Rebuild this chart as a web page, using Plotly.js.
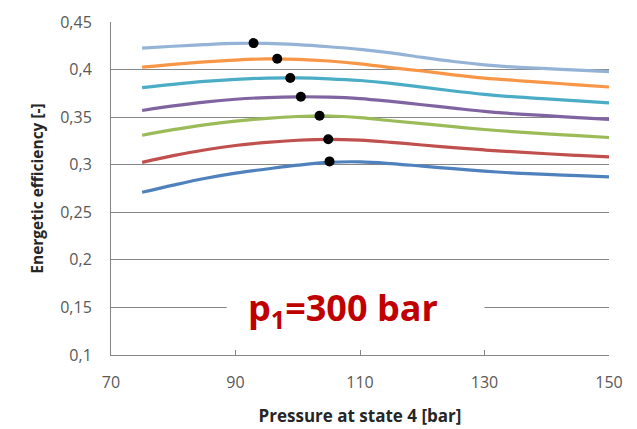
<!DOCTYPE html>
<html>
<head>
<meta charset="utf-8">
<script src="https://cdn.plot.ly/plotly-3.0.1.min.js"></script>
<style>html,body{margin:0;padding:0;background:#fff;}#chart{width:637px;height:429px;}</style>
</head>
<body>
<div id="chart"></div>
<script>
const pressure = [75, 80, 85, 90, 95, 100, 105, 110, 115, 120, 125, 130, 135, 140, 145, 150];
const effLightBlue = [0.4225, 0.4245, 0.4262, 0.4275, 0.4275, 0.4262, 0.4240, 0.4212, 0.4175, 0.4128, 0.4085, 0.4050, 0.4025, 0.4010, 0.3995, 0.3978];
const effOrange    = [0.4025, 0.4055, 0.4080, 0.4100, 0.4112, 0.4108, 0.4090, 0.4060, 0.4020, 0.3985, 0.3945, 0.3910, 0.3885, 0.3862, 0.3840, 0.3817];
const effTeal      = [0.3810, 0.3845, 0.3875, 0.3897, 0.3910, 0.3912, 0.3903, 0.3885, 0.3855, 0.3815, 0.3775, 0.3740, 0.3712, 0.3692, 0.3672, 0.3651];
const effPurple    = [0.3570, 0.3618, 0.3658, 0.3688, 0.3706, 0.3714, 0.3710, 0.3695, 0.3665, 0.3630, 0.3595, 0.3560, 0.3535, 0.3515, 0.3495, 0.3477];
const effGreen     = [0.3310, 0.3368, 0.3418, 0.3458, 0.3488, 0.3507, 0.3512, 0.3495, 0.3462, 0.3432, 0.3400, 0.3370, 0.3345, 0.3325, 0.3305, 0.3286];
const effRed       = [0.3025, 0.3095, 0.3155, 0.3202, 0.3235, 0.3257, 0.3267, 0.3258, 0.3235, 0.3207, 0.3180, 0.3155, 0.3135, 0.3115, 0.3098, 0.3083];
const effBlue      = [0.2710, 0.2785, 0.2855, 0.2912, 0.2955, 0.2995, 0.3025, 0.3030, 0.3012, 0.2985, 0.2958, 0.2932, 0.2912, 0.2898, 0.2885, 0.2872];

const peakPressure = [92.9, 96.7, 98.8, 100.5, 103.5, 104.9, 105.1];
const peakEff      = [0.4278, 0.4113, 0.3911, 0.3714, 0.3514, 0.3268, 0.3035];

const yTickVals = [0.1, 0.15, 0.2, 0.25, 0.3, 0.35, 0.4, 0.45];
const yTickText = ['0,1', '0,15', '0,2', '0,25', '0,3', '0,35', '0,4', '0,45'];
const xTickVals = [70, 90, 110, 130, 150];

const series = [
  {y: effLightBlue, color: '#95B3D7'},
  {y: effOrange, color: '#F79646'},
  {y: effTeal, color: '#4BACC6'},
  {y: effPurple, color: '#8064A2'},
  {y: effGreen, color: '#9BBB59'},
  {y: effRed, color: '#C0504D'},
  {y: effBlue, color: '#4F81BD'}
];

const traces = series.map(s => ({
  x: pressure, y: s.y, type: 'scatter', mode: 'lines',
  line: {color: s.color, width: 3.2, shape: 'spline', smoothing: 1},
  showlegend: false, hoverinfo: 'skip'
}));
traces.push({
  x: peakPressure, y: peakEff, type: 'scatter', mode: 'markers',
  marker: {color: '#000', size: 10},
  showlegend: false, hoverinfo: 'skip'
});

const axisGray = '#868686';
const layout = {
  width: 637, height: 429,
  margin: {l: 111, r: 28, t: 22, b: 74},
  paper_bgcolor: '#fff', plot_bgcolor: '#fff',
  font: {family: 'Open Sans, sans-serif', color: '#595959'},
  xaxis: {
    range: [70, 150], tickvals: xTickVals, showgrid: false, zeroline: false,
    showline: true, linecolor: axisGray, linewidth: 1,
    ticks: 'inside', ticklen: 5, tickcolor: axisGray,
    tickfont: {size: 16, color: '#595959'}, ticklabelstandoff: 13,
    title: {text: 'Pressure at state 4 [bar]', font: {size: 17, color: '#262626', family: 'Open Sans, sans-serif', weight: 'bold'}, standoff: 17}
  },
  yaxis: {
    range: [0.1, 0.45], tickvals: yTickVals, ticktext: yTickText,
    showgrid: true, gridcolor: axisGray, gridwidth: 1, zeroline: false,
    showline: true, linecolor: axisGray, linewidth: 1, ticks: '',
    tickfont: {size: 16, color: '#595959'}, ticklabelstandoff: 15,
    title: {text: 'Energetic efficiency [-]', font: {size: 15.5, color: '#262626', family: 'Open Sans, sans-serif', weight: 'bold'}, standoff: 12}
  },
  shapes: [{
    type: 'rect', xref: 'x', yref: 'y', x0: 88.6, x1: 130.0, y0: 0.135, y1: 0.165,
    fillcolor: '#fff', line: {width: 0}, layer: 'above'
  }],
  annotations: [{
    x: 107.2, y: 0.1475, xref: 'x', yref: 'y', showarrow: false,
    text: '<b>p<sub>1</sub>=300 bar</b>',
    font: {family: 'Open Sans, sans-serif', size: 36, color: '#C00000'}
  }]
};

Plotly.newPlot('chart', traces, layout, {displayModeBar: false, staticPlot: true});
</script>
</body>
</html>
